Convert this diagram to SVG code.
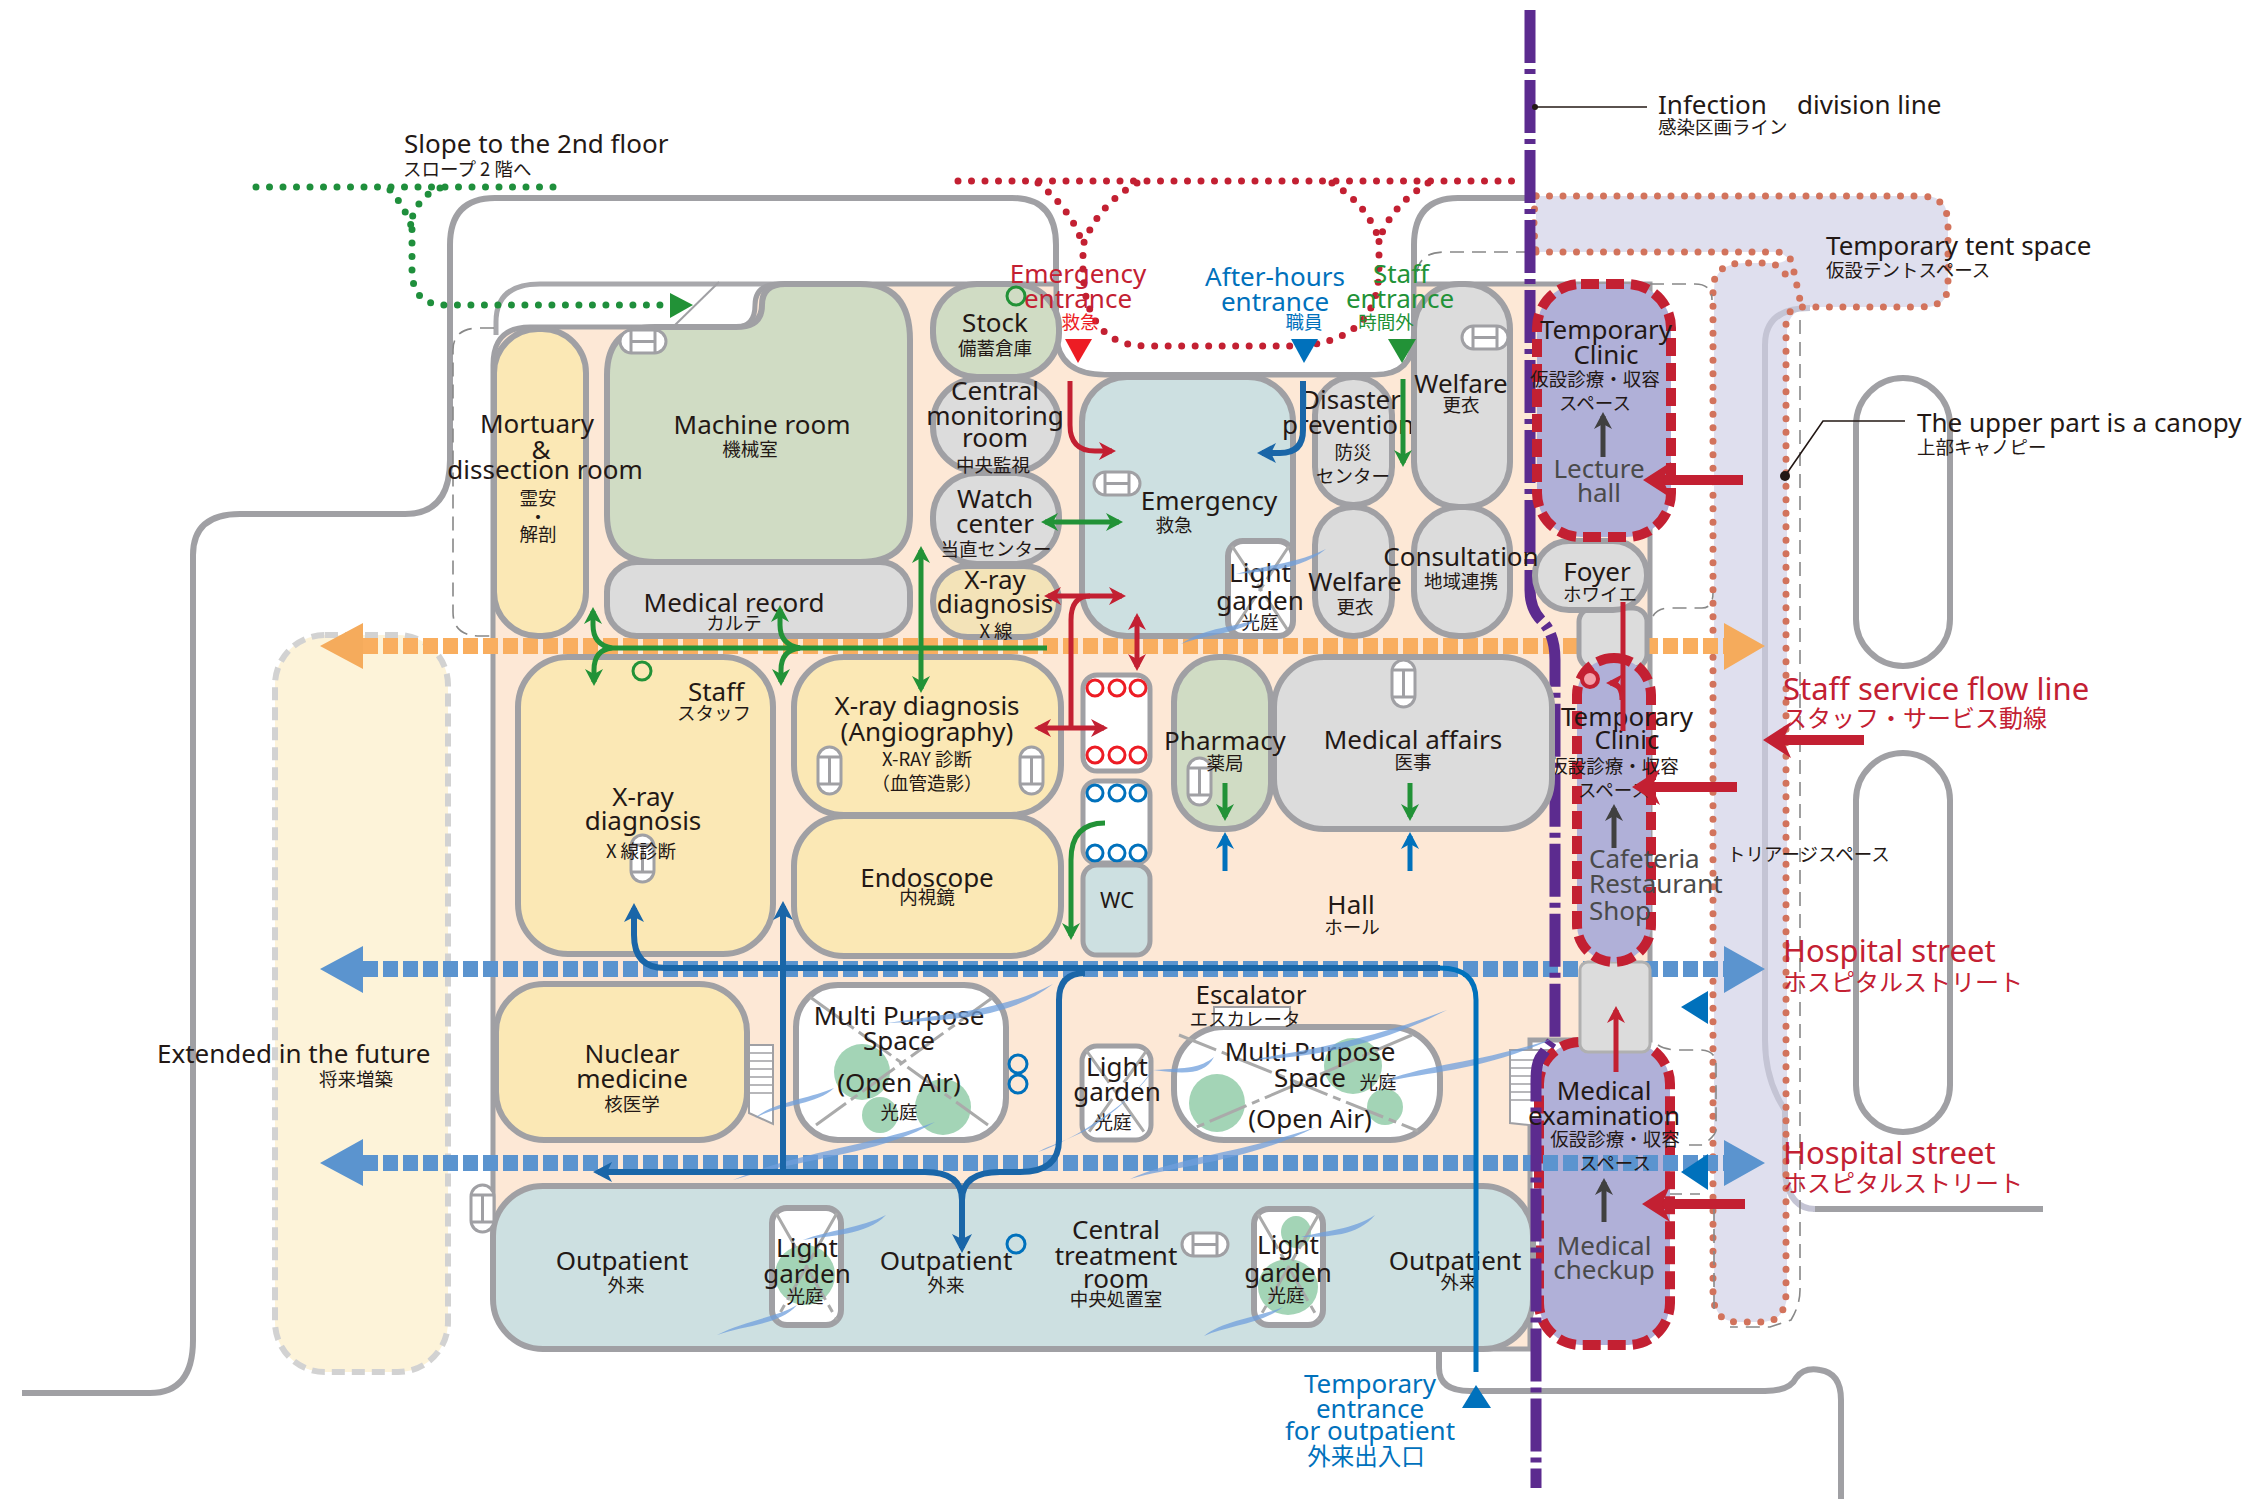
<svg xmlns="http://www.w3.org/2000/svg" xmlns:xlink="http://www.w3.org/1999/xlink" width="2262" height="1499" viewBox="0 0 2262 1499">
<style>
text{font-family:"Noto Sans","Liberation Sans","Noto Sans CJK JP",sans-serif;fill:#231815;text-anchor:middle;font-size:26px}
.ja{font-family:"Noto Sans CJK JP","Noto Sans",sans-serif;font-size:18.5px}
.st{text-anchor:start}
.lt{fill:#4a4a4a}
.red{fill:#c32032}.blu{fill:#0071bc}.grn{fill:#229237}.rd2{fill:#ed1c24}
.big{font-size:31px}.bj{font-size:24px}
.room{stroke:#a0a0a4;stroke-width:6}
.y{fill:#fbe8b5}.yy{fill:#f3e3b8}.g{fill:#d0dcc4}.k{fill:#dcdcdc}.b{fill:#cde0e1}.w{fill:#fff}
.clinic{fill:#b0b0d8;stroke:#c32032;stroke-width:10;stroke-dasharray:18 7}
.out{fill:none;stroke:#a0a0a4;stroke-width:6}
.thin{fill:none;stroke:#888;stroke-width:1.6;stroke-dasharray:14 8}
.dotg{fill:none;stroke:#1f8f3c;stroke-width:7;stroke-linecap:round;stroke-dasharray:0 13.5}
.dotr{fill:none;stroke:#c32032;stroke-width:7;stroke-linecap:round;stroke-dasharray:0 13.5}
.dotp{fill:none;stroke:#d2735c;stroke-width:7;stroke-linecap:round;stroke-dasharray:0 13.5}
.flow{fill:none;stroke-width:16;stroke-dasharray:15 5}
.xl{stroke:#aaa;stroke-width:3;stroke-dasharray:40 6 8 6;fill:none}
.gr{fill:#a3d4b6}
.wind{fill:#6f9fdc;opacity:.75}
.ev{fill:#fff;stroke:#a0a0a4;stroke-width:3}
.evl{stroke:#a0a0a4;stroke-width:3;fill:none}
.lr{fill:none;stroke:#c32032;stroke-width:5}
.lrb{fill:none;stroke:#c32032;stroke-width:10}
.lg{fill:none;stroke:#229237;stroke-width:5}
.lb{fill:none;stroke:#0071bc;stroke-width:5}
.ld{fill:none;stroke:#1a66a8;stroke-width:6}
.lk{fill:none;stroke:#404040;stroke-width:5}
.o{fill:#fff;stroke:#0071bc;stroke-width:3}
.or{fill:#fff;stroke:#ed1c24;stroke-width:3}
.og{fill:none;stroke:#229237;stroke-width:3}
.purple{fill:none;stroke:#5c2b8f;stroke-width:11;stroke-dasharray:53 6 5 6}
.lead{fill:none;stroke:#231815;stroke-width:1.6}
</style>
<defs>
<marker id="aR" viewBox="0 0 22 22" refX="16" refY="11" markerWidth="22" markerHeight="22" markerUnits="userSpaceOnUse" orient="auto-start-reverse"><path d="M3,2 L20,11 L3,20 L8,11 Z" fill="#c32032"/></marker>
<marker id="aG" viewBox="0 0 22 22" refX="16" refY="11" markerWidth="22" markerHeight="22" markerUnits="userSpaceOnUse" orient="auto-start-reverse"><path d="M3,2 L20,11 L3,20 L8,11 Z" fill="#229237"/></marker>
<marker id="aB" viewBox="0 0 22 22" refX="16" refY="11" markerWidth="22" markerHeight="22" markerUnits="userSpaceOnUse" orient="auto-start-reverse"><path d="M3,2 L20,11 L3,20 L8,11 Z" fill="#0071bc"/></marker>
<marker id="aD" viewBox="0 0 24 24" refX="17" refY="12" markerWidth="24" markerHeight="24" markerUnits="userSpaceOnUse" orient="auto-start-reverse"><path d="M3,2 L22,12 L3,22 L8,12 Z" fill="#1a66a8"/></marker>
<marker id="aK" viewBox="0 0 22 22" refX="16" refY="11" markerWidth="22" markerHeight="22" markerUnits="userSpaceOnUse" orient="auto-start-reverse"><path d="M3,2 L20,11 L3,20 L8,11 Z" fill="#404040"/></marker>
<marker id="aL" viewBox="0 0 40 40" refX="22" refY="20" markerWidth="40" markerHeight="40" markerUnits="userSpaceOnUse" orient="auto"><path d="M6,2 L34,20 L6,38 L14,20 Z" fill="#c32032"/></marker>
<g id="evh"><rect class="ev" width="46" height="23" rx="11.5"/><path class="evl" d="M11,0V23M35,0V23M11,11.5H35"/></g>
<g id="evv"><rect class="ev" width="23" height="47" rx="11.5"/><path class="evl" d="M0,10H23M0,37H23M11.5,10V37"/></g>
</defs>

<g id="site-lines">
<path class="out" d="M22,1393 H150 Q193,1393 193,1340 V555 Q193,514 240,514 H405 Q450,514 450,460 V245 Q450,198 495,198 H1012 Q1056,198 1056,245 V335 Q1058,375 1105,375 H1375 Q1414,375 1414,335 V245 Q1414,198 1458,198 H1530"/>
<path class="out" d="M1439,1348 V1368 Q1439,1391 1470,1391 H1765 Q1790,1391 1796,1378 Q1804,1367 1820,1370 Q1841,1373 1841,1400 V1499"/>
<path class="out" d="M1813,1209 H2043"/>
<path class="out" style="stroke:#a8a8ac;stroke-width:5" d="M496,335 V322 Q496,284 540,284 H790"/>
<path d="M719,282 L675,325" fill="none" stroke="#a0a0a4" stroke-width="2"/>
</g>

<g id="extension"><rect x="275" y="635" width="173" height="737" rx="50" fill="#fdf3d9" stroke="#d2d2d2" stroke-width="6" stroke-dasharray="13 7"/>
<text class="st" x="157" y="1063">Extended in the future</text><text class="ja" x="356" y="1086">将来増築</text></g>

<g id="tent-space">
<path fill="#dfdfee" d="M1536,196 H1925 Q1948,196 1948,222 V285 Q1948,307 1925,307 H1812 Q1789,309 1787,330 V1295 Q1786,1322 1760,1322 H1738 Q1714,1322 1714,1295 V290 Q1714,263 1745,263 H1770 Q1784,264 1788,258 L1780,252 H1536 Z"/>
<path fill="none" stroke="#c4c4d4" stroke-width="6" d="M1810,308 Q1765,308 1765,345 V1040 Q1765,1080 1785,1110 V1175 Q1790,1209 1815,1209"/>
<path class="dotp" d="M1536,196 H1920 Q1948,196 1948,225 V285 Q1948,307 1920,307 H1800 Q1786,309 1786,325 V1292 Q1786,1322 1762,1322 H1738 Q1713,1322 1713,1292 V290 Q1713,263 1745,263 H1765 Q1787,264 1788,286"/>
<path class="dotp" d="M1536,252 H1775 Q1793,252 1794,272 L1800,300"/>
<path class="dotp" d="M1536,196 Q1532,220 1536,252"/>
</g>

<g id="floor"><path fill="#fde8d6" stroke="#a0a0a4" stroke-width="5" d="M493,365 Q493,327 530,327 H736 Q755,327 755,305 Q755,284 780,284 H1056 V335 Q1058,375 1105,375 H1375 Q1414,375 1414,335 V284 H1650 V1040 H1530 V1349 H560 Q493,1349 493,1280 Z"/></g>

<g id="dashed-outlines">
<path class="thin" d="M494,328 H480 Q453,328 453,350 V612 Q453,636 480,636 H494"/>
<path class="thin" d="M1530,252 H1445 Q1420,252 1417,272"/>
<path class="thin" d="M1650,284 H1695 Q1712,284 1712,300"/>
<path class="thin" d="M1653,616 Q1658,608 1670,608 H1702 Q1713,608 1713,593"/>
<path class="thin" d="M1800,320 V1290 Q1800,1305 1791,1320 L1770,1327 H1730"/>
<path class="thin" d="M1658,1045 Q1665,1050 1680,1050 H1700 Q1716,1050 1716,1065 V1130 Q1716,1135 1703,1145 H1689"/>
<path class="thin" d="M1668,1194 H1700 M1714,1207 V1317"/>
</g>

<g id="node-stairs-2"><path fill="#fff" stroke="#a0a0a4" stroke-width="2" d="M1510,1050 H1549 V1127 L1510,1123 Z"/><path class="evl" style="stroke-width:1.5" d="M1510,1060H1549M1510,1068H1549M1510,1076H1549M1510,1084H1549M1510,1092H1549M1510,1100H1549"/></g>
<g id="node-medical-examination">
<rect class="clinic" x="1539" y="1042" width="131" height="303" rx="42"/>
<path class="lk" marker-end="url(#aK)" d="M1604,1222 V1182"/>
</g>

<g id="flows">
<line class="flow" x1="363" y1="646" x2="1724" y2="646" stroke="#f9ae5f"/>
<path d="M363,623 L320,646 L363,669 Z M1724,623 L1765,646 L1724,670 Z" fill="#f5ab5c"/>
<line class="flow" x1="363" y1="969" x2="1724" y2="969" stroke="#5b94cf"/>
<path d="M363,946 L320,969 L363,993 Z M1724,946 L1765,969 L1724,993 Z" fill="#5b94cf"/>
<line class="flow" x1="363" y1="1163" x2="1724" y2="1163" stroke="#5b94cf"/>
<path d="M363,1139 L320,1163 L363,1186 Z M1724,1140 L1765,1163 L1724,1186 Z" fill="#5b94cf"/>
<path d="M1708,991 L1681,1007 L1708,1024 Z M1708,1154 L1681,1172 L1708,1190 Z" fill="#0071bc"/>
</g>

<g id="canopy-capsules">
<rect class="out" style="fill:#fff" x="1856" y="378" width="94" height="288" rx="47"/>
<rect class="out" style="fill:#fff" x="1856" y="753" width="94" height="379" rx="47"/>
</g>

<g id="node-outpatient"><rect class="room b" x="493" y="1186" width="1040" height="163" rx="50"/>
<use xlink:href="#evv" href="#evv" x="471" y="1185"/>
<use xlink:href="#evh" href="#evh" x="1182" y="1233"/>
<text x="622" y="1270">Outpatient</text><text class="ja" x="626" y="1292">外来</text>
<text x="946" y="1270">Outpatient</text><text class="ja" x="946" y="1292">外来</text>
<text x="1116" y="1239">Central</text><text x="1116" y="1265">treatment</text><text x="1116" y="1288">room</text><text class="ja" x="1116" y="1306">中央処置室</text>
<text x="1455" y="1270">Outpatient</text><text class="ja" x="1459" y="1289">外来</text></g>
<g id="division-line"><path class="purple" d="M1530,10 V590 Q1530,610 1543,622 Q1555,635 1555,660 V1037 L1540,1058 Q1536,1065 1536,1080 V1488"/></g>

<g id="node-machine-room"><path class="room g" d="M607,375 Q607,327 655,327 H736 Q762,327 762,305 Q762,284 785,284 H860 Q910,284 910,340 V515 Q910,562 860,562 H655 Q607,562 607,515 Z"/>
<use xlink:href="#evh" href="#evh" x="620" y="330"/>
<text x="762" y="434">Machine room</text><text class="ja" x="750" y="456">機械室</text></g>
<g id="node-mortuary"><rect class="room y" x="494" y="329" width="92" height="307" rx="44"/>
<text x="537" y="433">Mortuary</text><text x="541" y="459">&amp;</text><text x="545" y="479">dissection room</text>
<text class="ja" x="538" y="505">霊安</text><text class="ja" x="538" y="524">・</text><text class="ja" x="538" y="541">解剖</text></g>
<g id="node-medical-record"><rect class="room k" x="607" y="562" width="303" height="74" rx="30"/>
<text x="734" y="612">Medical record</text><text class="ja" x="734" y="630">カルテ</text></g>
<g id="node-xray-small"><rect class="room yy" x="933" y="566" width="126" height="71" rx="35"/>
<text x="995" y="589">X-ray</text><text x="995" y="613">diagnosis</text><text class="ja" x="996" y="638">X 線</text></g>
<g id="node-watch-center"><rect class="room k" x="933" y="473" width="126" height="91" rx="44"/>
<text x="995" y="508">Watch</text><text x="995" y="533">center</text><text class="ja" x="996" y="556">当直センター</text></g>
<g id="node-central-monitoring"><rect class="room k" x="933" y="379" width="126" height="92" rx="44"/>
<text x="995" y="400">Central</text><text x="995" y="425">monitoring</text><text x="995" y="447">room</text><text class="ja" x="993" y="472">中央監視</text></g>
<g id="node-stock"><rect class="room g" x="933" y="284" width="126" height="93" rx="44"/>
<text x="995" y="332">Stock</text><text class="ja" x="995" y="355">備蓄倉庫</text></g>
<g id="node-emergency"><rect class="room b" x="1082" y="377" width="211" height="259" rx="45"/>
<use xlink:href="#evh" href="#evh" x="1094" y="472"/>
<text x="1209" y="510">Emergency</text><text class="ja" x="1174" y="532">救急</text></g>
<g id="node-light-garden-emergency"><rect class="room w" x="1228" y="541" width="65" height="95" rx="15"/>
<path class="xl" d="M1232,546 L1289,632 M1289,546 L1232,632"/>
<text x="1260" y="582">Light</text><text x="1260" y="610">garden</text><text class="ja" x="1260" y="629">光庭</text></g>
<g id="node-welfare-lower"><rect class="room k" x="1315" y="507" width="77" height="129" rx="38"/>
<text x="1355" y="591">Welfare</text><text class="ja" x="1355" y="614">更衣</text></g>
<g id="node-disaster"><rect class="room k" x="1315" y="377" width="77" height="128" rx="38"/>
<text x="1351" y="409">Disaster</text><text x="1348" y="434">prevention</text><text class="ja" x="1353" y="459">防災</text><text class="ja" x="1353" y="483">センター</text></g>
<g id="node-welfare-upper"><rect class="room k" x="1414" y="284" width="96" height="223" rx="45"/>
<use xlink:href="#evh" href="#evh" x="1462" y="326"/>
<text x="1461" y="393">Welfare</text><text class="ja" x="1461" y="412">更衣</text></g>
<g id="node-corridor-a"><rect class="room k" x="1579" y="608" width="68" height="60" rx="14" style="stroke-width:5"/></g>
<g id="node-foyer"><rect class="room k" x="1535" y="541" width="112" height="69" rx="34"/>
<text x="1597" y="581">Foyer</text><text class="ja" x="1600" y="601">ホワイエ</text></g>
<g id="node-consultation"><rect class="room k" x="1414" y="507" width="96" height="129" rx="45"/>
<text x="1461" y="566">Consultation</text><text class="ja" x="1461" y="588">地域連携</text></g>
<g id="node-corridor-b"><rect x="1580" y="962" width="70" height="90" fill="#dcdcdc" stroke="#b0b0b0" stroke-width="3" rx="8"/></g>
<g id="node-temporary-clinic-1"><rect class="clinic" x="1537" y="284" width="134" height="253" rx="44"/>
<text x="1606" y="339">Temporary</text><text x="1606" y="364">Clinic</text><text class="ja" x="1595" y="386">仮設診療・収容</text><text class="ja" x="1595" y="410">スペース</text>
<text class="lt" x="1599" y="478">Lecture</text><text class="lt" x="1599" y="502">hall</text></g>
<g id="node-temporary-clinic-2"><rect class="clinic" x="1577" y="658" width="74" height="304" rx="37"/>
<text x="1627" y="726">Temporary</text><text x="1627" y="749">Clinic</text><text class="ja" x="1614" y="773">仮設診療・収容</text><text class="ja" x="1614" y="797">スペース</text>
<text class="st lt" x="1589" y="868">Cafeteria</text><text class="st lt" x="1589" y="893">Restaurant</text><text class="st lt" x="1589" y="920">Shop</text></g>
<g id="node-xray-staff"><rect class="room y" x="518" y="657" width="255" height="297" rx="50"/>
<use xlink:href="#evv" href="#evv" x="631" y="835"/>
<text x="716" y="701">Staff</text><text class="ja" x="714" y="720">スタッフ</text>
<text x="643" y="806">X-ray</text><text x="643" y="830">diagnosis</text><text class="ja" x="641" y="858">X 線診断</text></g>
<g id="node-endoscope"><rect class="room y" x="794" y="816" width="267" height="140" rx="50"/>
<text x="927" y="887">Endoscope</text><text class="ja" x="927" y="904">内視鏡</text></g>
<g id="node-angiography"><rect class="room y" x="794" y="657" width="267" height="158" rx="50"/>
<use xlink:href="#evv" href="#evv" x="818" y="747"/><use xlink:href="#evv" href="#evv" x="1020" y="747"/>
<text x="927" y="715">X-ray diagnosis</text><text x="927" y="741">(Angiography)</text><text class="ja" x="927" y="766">X-RAY 診断</text><text class="ja" x="927" y="790">（血管造影）</text></g>
<g id="node-stairs-1"><path fill="#fff" stroke="#a0a0a4" stroke-width="2" d="M749,1045 H773 V1124 L749,1113 Z"/><path class="evl" style="stroke-width:1.5" d="M749,1053H773M749,1061H773M749,1069H773M749,1077H773M749,1085H773M749,1093H773"/></g>
<g id="node-nuclear"><rect class="room y" x="496" y="984" width="251" height="156" rx="48"/>
<text x="632" y="1063">Nuclear</text><text x="632" y="1088">medicine</text><text class="ja" x="632" y="1111">核医学</text></g>
<g id="node-multi-1"><rect class="room w" x="796" y="985" width="210" height="155" rx="42"/>
<circle class="gr" cx="862" cy="1072" r="28"/><circle class="gr" cx="943" cy="1107" r="28"/><circle class="gr" cx="880" cy="1115" r="18"/>
<path class="xl" d="M810,997 L988,1125 M992,998 L816,1125"/>
<text x="899" y="1025">Multi Purpose</text><text x="899" y="1050">Space</text><text x="899" y="1092">(Open Air)</text><text class="ja" x="899" y="1119">光庭</text></g>
<g id="node-medical-affairs"><rect class="room k" x="1274" y="657" width="278" height="172" rx="50"/>
<use xlink:href="#evv" href="#evv" x="1392" y="660"/>
<text x="1413" y="749">Medical affairs</text><text class="ja" x="1413" y="769">医事</text></g>
<g id="node-pharmacy"><rect class="room g" x="1174" y="657" width="97" height="172" rx="45"/>
<use xlink:href="#evv" href="#evv" x="1188" y="758"/>
<text x="1225" y="750">Pharmacy</text><text class="ja" x="1225" y="770">薬局</text></g>
<g id="node-stairs-red"><rect class="room w" x="1083" y="675" width="67" height="96" rx="14" style="stroke-width:5"/>
<circle class="or" cx="1095" cy="688" r="8"/><circle class="or" cx="1117" cy="688" r="8"/><circle class="or" cx="1138" cy="688" r="8"/>
<circle class="or" cx="1095" cy="755" r="8"/><circle class="or" cx="1117" cy="755" r="8"/><circle class="or" cx="1138" cy="755" r="8"/></g>
<g id="node-stairs-blue"><rect class="room w" x="1083" y="781" width="67" height="82" rx="14" style="stroke-width:5"/>
<circle class="o" cx="1095" cy="793" r="8"/><circle class="o" cx="1117" cy="793" r="8"/><circle class="o" cx="1138" cy="793" r="8"/>
<circle class="o" cx="1095" cy="853" r="8"/><circle class="o" cx="1117" cy="853" r="8"/><circle class="o" cx="1138" cy="853" r="8"/></g>
<g id="node-wc"><rect class="room b" x="1083" y="865" width="67" height="90" rx="14" style="stroke-width:5"/><text x="1117" y="908" style="font-size:22px">WC</text></g>
<g id="node-hall"><text x="1351" y="914">Hall</text><text class="ja" x="1352" y="934">ホール</text></g>
<g id="node-light-garden-2"><rect class="room w" x="1082" y="1046" width="69" height="94" rx="15" style="stroke-width:5"/>
<path class="xl" d="M1086,1050 L1147,1136 M1147,1050 L1086,1136"/>
<text x="1117" y="1076">Light</text><text x="1117" y="1101">garden</text><text class="ja" x="1113" y="1129">光庭</text></g>
<g id="node-multi-2"><rect class="room w" x="1174" y="1027" width="266" height="113" rx="50"/>
<ellipse class="gr" cx="1217" cy="1103" rx="28" ry="29"/><ellipse class="gr" cx="1353" cy="1066" rx="29" ry="28"/><circle class="gr" cx="1385" cy="1107" r="18"/>
<path class="xl" d="M1179,1035 L1418,1131 M1412,1035 L1192,1129"/>
<text x="1310" y="1061">Multi Purpose</text><text x="1310" y="1087">Space</text><text class="ja" x="1378" y="1089">光庭</text><text x="1310" y="1128">(Open Air)</text></g>
<g id="node-escalator"><rect x="1214" y="1007" width="76" height="20" fill="#fff" stroke="#a0a0a4" stroke-width="2"/><text x="1251" y="1004">Escalator</text><text class="ja" x="1245" y="1026">エスカレータ</text></g>
<g id="node-light-garden-3"><rect class="room w" x="772" y="1208" width="69" height="117" rx="15"/>
<ellipse class="gr" cx="805" cy="1275" rx="30" ry="30"/><path class="xl" d="M776,1213 L837,1320 M837,1213 L776,1320"/>
<text x="807" y="1257">Light</text><text x="807" y="1283">garden</text><text class="ja" x="805" y="1303">光庭</text></g>
<g id="node-light-garden-4"><rect class="room w" x="1254" y="1209" width="69" height="116" rx="15"/>
<ellipse class="gr" cx="1296" cy="1232" rx="15" ry="16"/><ellipse class="gr" cx="1288" cy="1287" rx="30" ry="28"/><path class="xl" d="M1258,1214 L1319,1320 M1319,1214 L1258,1320"/>
<text x="1288" y="1254">Light</text><text x="1288" y="1282">garden</text><text class="ja" x="1286" y="1302">光庭</text></g>
<g id="node-medical-examination-labels">
<text x="1604" y="1100">Medical</text><text x="1604" y="1125">examination</text><text class="ja" x="1615" y="1146">仮設診療・収容</text><text class="ja" x="1615" y="1170">スペース</text>
<text class="lt" x="1604" y="1255">Medical</text><text class="lt" x="1604" y="1279">checkup</text></g>

<g id="wind">
<path class="wind" d="M755,1118 C773,1102 812,1098 834,1088 C815,1106 780,1104 755,1118 Z"/>
<path class="wind" d="M887,1023 C954,1013 1006,1009 1053,984 C1010,1018 954,1020 887,1023 Z"/>
<path class="wind" d="M733,1180 C796,1152 875,1145 935,1122 C880,1155 800,1158 733,1180 Z"/>
<path class="wind" d="M1038,1152 C1066,1137 1102,1135 1153,1070 C1135,1100 1075,1140 1038,1152 Z"/>
<path class="wind" d="M1153,1070 C1189,1068 1200,1068 1214,1057 C1205,1075 1185,1074 1153,1070 Z"/>
<path class="wind" d="M1249,1060 C1297,1052 1367,1041 1447,1010 C1370,1050 1300,1058 1249,1060 Z"/>
<path class="wind" d="M1380,1083 C1424,1064 1475,1064 1552,1039 C1480,1072 1424,1072 1380,1083 Z"/>
<path class="wind" d="M1130,1179 C1179,1157 1240,1153 1316,1127 C1245,1162 1180,1165 1130,1179 Z"/>
<path class="wind" d="M717,1335 C746,1320 778,1317 797,1305 C780,1325 745,1325 717,1335 Z"/>
<path class="wind" d="M803,1240 C829,1230 861,1228 886,1215 C866,1236 830,1235 803,1240 Z"/>
<path class="wind" d="M1204,1336 C1224,1320 1260,1317 1283,1307 C1262,1324 1226,1326 1204,1336 Z"/>
<path class="wind" d="M1301,1237 C1327,1230 1352,1230 1375,1215 C1358,1236 1328,1237 1301,1237 Z"/>
<path class="wind" d="M1181,644 C1206,627 1236,627 1258,619 C1238,634 1206,634 1181,644 Z"/>
<path class="wind" d="M1236,574 C1269,564 1296,564 1326,549 C1300,570 1268,571 1236,574 Z"/>
</g>

<g id="connectors">
<path class="dotg" d="M256,187 H563"/>
<path class="dotg" d="M390,190 Q404,205 412,228"/>
<path class="dotg" d="M440,188 Q420,195 412,218 V270 Q412,305 445,305 H665"/>
<path d="M670,293 L693,305 L670,318 Z" fill="#229237"/>
<path class="dotr" d="M958,181 H1520"/>
<path class="dotr" d="M1038,183 Q1072,210 1083,245"/>
<path class="dotr" d="M1137,183 Q1098,205 1083,245 V270 Q1085,345 1145,346 H1290 Q1378,345 1379,270 V240"/>
<path class="dotr" d="M1332,183 Q1368,205 1379,240"/>
<path class="dotr" d="M1428,183 Q1392,205 1379,240"/>
<path d="M1065,339 H1092 L1078,363 Z" fill="#ed1c24"/>
<path d="M1291,339 H1318 L1304,363 Z" fill="#0071bc"/>
<path d="M1388,339 H1416 L1402,363 Z" fill="#229237"/>
<path d="M1462,1408 H1491 L1476,1385 Z" fill="#0071bc"/>

<path class="lr" marker-end="url(#aR)" d="M1070,381 V425 Q1070,451 1095,451 H1112"/>
<path class="lr" marker-start="url(#aR)" marker-end="url(#aR)" d="M1048,596 H1122"/>
<path class="lr" d="M1071,728 V620 Q1071,596 1090,596"/>
<path class="lr" marker-start="url(#aR)" marker-end="url(#aR)" d="M1038,728 H1104"/>
<path class="lr" marker-start="url(#aR)" marker-end="url(#aR)" d="M1137,617 V667"/>
<path class="lr" d="M1623,602 V731"/>
<path class="lr" marker-end="url(#aR)" d="M1622,700 Q1622,683 1610,683"/>
<circle cx="1590" cy="679" r="8" fill="#f4a0a8" stroke="#c32032" stroke-width="4"/>
<path class="lr" marker-end="url(#aR)" d="M1616,1072 V1010"/>
<path class="lrb" marker-end="url(#aL)" d="M1743,480 H1655"/>
<path class="lrb" marker-end="url(#aL)" d="M1737,787 H1644"/>
<path class="lrb" marker-end="url(#aL)" d="M1864,740 H1775"/>
<path class="lrb" marker-end="url(#aL)" d="M1745,1204 H1654"/>
<path class="lk" marker-end="url(#aK)" d="M1603,457 V416"/>
<path class="lk" marker-end="url(#aK)" d="M1614,848 V808"/>

<path class="lg" d="M1047,648 H612"/>
<path class="lg" marker-end="url(#aG)" d="M612,648 Q593,645 593,625 V611"/>
<path class="lg" marker-end="url(#aG)" d="M612,648 Q594,650 594,670 V682"/>
<path class="lg" marker-end="url(#aG)" d="M800,648 Q780,645 780,625 V609"/>
<path class="lg" marker-end="url(#aG)" d="M800,648 Q781,650 781,670 V682"/>
<path class="lg" marker-start="url(#aG)" marker-end="url(#aG)" d="M921,550 V689"/>
<path class="lg" marker-start="url(#aG)" marker-end="url(#aG)" d="M1045,522 H1119"/>
<path class="lg" marker-end="url(#aG)" d="M1403,379 V463"/>
<path class="lg" marker-end="url(#aG)" d="M1105,823 Q1071,823 1071,860 V936"/>
<path class="lg" marker-end="url(#aG)" d="M1225,783 V817"/>
<path class="lg" marker-end="url(#aG)" d="M1410,783 V817"/>
<path class="lb" marker-end="url(#aB)" d="M1225,871 V836"/>
<path class="lb" marker-end="url(#aB)" d="M1410,871 V836"/>

<path class="ld" marker-end="url(#aD)" d="M1303,381 V430 Q1303,453 1280,453 H1262"/>
<path class="ld" marker-end="url(#aD)" d="M665,968 Q634,968 634,935 V908"/>
<path class="ld" d="M665,968 H1440"/>
<path class="lb" d="M1440,968 Q1476,968 1476,1000 V1372"/>
<path class="ld" marker-end="url(#aD)" d="M783,1170 V906"/>
<path class="ld" marker-end="url(#aD)" d="M962,1200 Q962,1172 925,1172 H598"/>
<path class="ld" marker-end="url(#aD)" d="M1085,973 Q1059,973 1059,1000 V1140 Q1059,1172 1020,1172 H1000 Q962,1172 962,1200 V1248"/>

<circle class="o" style="fill:none" cx="1018" cy="1064" r="9"/><circle class="o" style="fill:none" cx="1018" cy="1084" r="9"/><circle class="o" style="fill:none" cx="1016" cy="1244" r="9"/>
<circle class="og" cx="1016" cy="296" r="9"/><circle class="og" cx="642" cy="671" r="9"/>

<path class="lead" d="M1535,107 H1647"/><circle cx="1535" cy="107" r="3" fill="#231815"/>
<path class="lead" d="M1785,476 L1823,421 H1905"/><circle cx="1785" cy="476" r="5" fill="#231815"/>
</g>

<g id="labels">
<text class="st" x="404" y="153">Slope to the 2nd floor</text><text class="ja st" x="403" y="176">スロープ 2 階へ</text>
<text class="st" x="1658" y="114">Infection <tspan x="1797">division line</tspan></text><text class="ja st" x="1658" y="134">感染区画ライン</text>
<text class="st" x="1826" y="255">Temporary tent space</text><text class="ja st" x="1826" y="277">仮設テントスペース</text>
<text class="st" x="1917" y="432">The upper part is a canopy</text><text class="ja st" x="1917" y="454">上部キャノピー</text>
<text class="st red big" x="1783" y="700">Staff service flow line</text><text class="ja st red bj" x="1783" y="727">スタッフ・サービス動線</text>
<text class="st red big" x="1783" y="962">Hospital street</text><text class="ja st red bj" x="1783" y="991">ホスピタルストリート</text>
<text class="st red big" x="1783" y="1164">Hospital street</text><text class="ja st red bj" x="1783" y="1192">ホスピタルストリート</text>
<text class="ja st" x="1727" y="861">トリアージスペース</text>
<text class="red" x="1078" y="283">Emergency</text><text class="red" x="1078" y="308">entrance</text><text class="ja rd2" x="1080" y="329">救急</text>
<text class="blu" x="1275" y="286">After-hours</text><text class="blu" x="1275" y="311">entrance</text><text class="ja blu" x="1304" y="329">職員</text>
<text class="grn" x="1401" y="283">Staff</text><text class="grn" x="1400" y="308">entrance</text><text class="ja grn" x="1386" y="329">時間外</text>
<text class="blu" x="1370" y="1393">Temporary</text><text class="blu" x="1370" y="1418">entrance</text><text class="blu" x="1370" y="1440">for outpatient</text><text class="ja blu" style="font-size:23.5px" x="1366" y="1465">外来出入口</text>
</g>
</svg>
